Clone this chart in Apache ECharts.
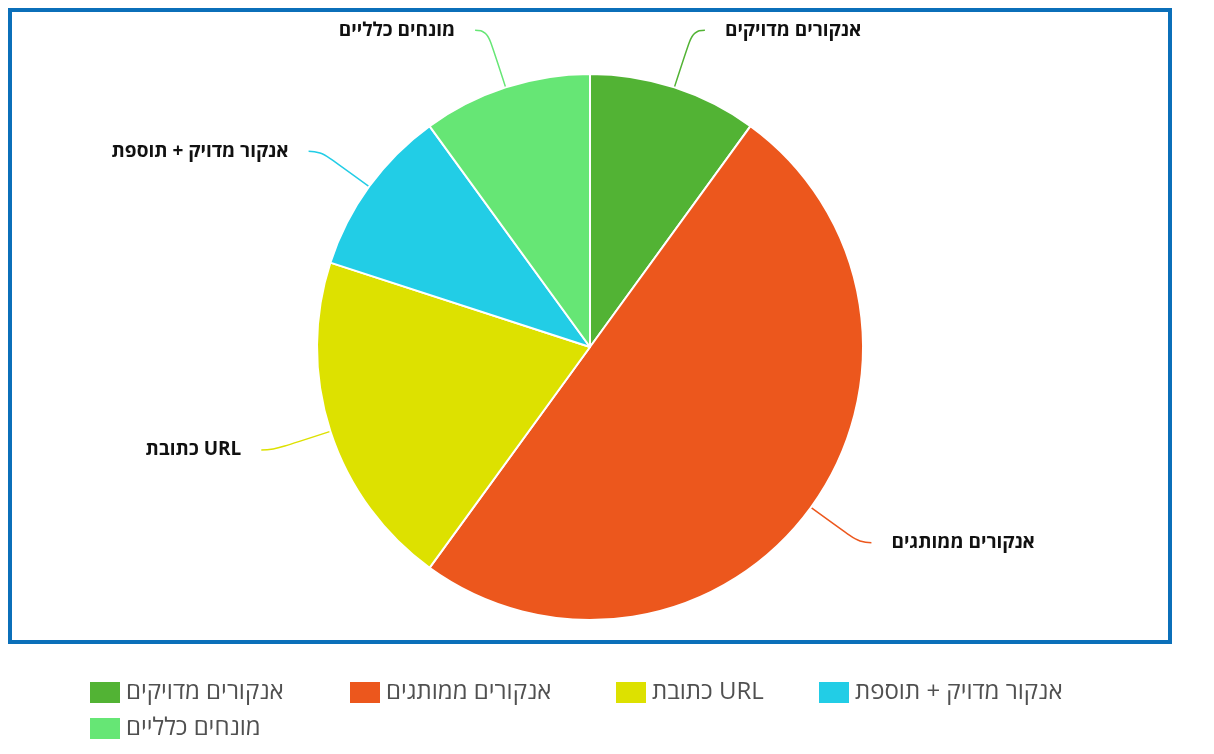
<!DOCTYPE html>
<html>
<head>
<meta charset="utf-8">
<style>
  html, body { margin: 0; padding: 0; background: #fff; }
  .chart { width: 1214px; height: 754px; }
</style>
<script src="https://cdn.jsdelivr.net/npm/echarts@6/dist/echarts.min.js"></script>
</head>
<body>
<div class="chart"></div>
<script>
// 数据
var categories = ['אנקורים מדויקים', 'אנקורים ממותגים', 'כתובת URL', 'אנקור מדויק + תוספת', 'מונחים כלליים'];
var values = [10, 50, 20, 10, 10];
var colors = ['#52b334', '#ec571d', '#dde100', '#22cde6', '#66e675'];

(function () {
  var myChart = echarts.init(document.querySelector('.chart'));

  var pieData = categories.map(function (name, i) {
    return { name: name, value: values[i] };
  });

  // 图例位置（每项一个 legend，对齐原图）
  var legendPos = [[83, 675], [343, 675], [609, 675], [812, 675], [83, 711]];
  var legends = categories.map(function (name, i) {
    return {
      data: [name],
      left: legendPos[i][0],
      top: legendPos[i][1],
      itemWidth: 32,
      itemHeight: 23,
      icon: 'rect',
      textStyle: {
        color: '#505050',
        fontSize: 24,
        fontFamily: 'Open Sans'
      }
    };
  });

  var option = {
    color: colors,
    // 蓝色边框
    graphic: [{
      type: 'rect',
      shape: { x: 10, y: 10, width: 1160, height: 632 },
      style: { fill: 'none', stroke: '#0b6fb9', lineWidth: 4 },
      z: 10
    }],
    legend: legends,
    series: [
      {
        type: 'pie',
        center: [590, 347],
        radius: 273,
        startAngle: 90,
        clockwise: true,
        data: pieData,
        itemStyle: {
          borderColor: '#fff',
          borderWidth: 2
        },
        label: {
          color: '#111',
          fontSize: 19,
          fontWeight: 'bold',
          fontFamily: 'Open Sans',
          padding: [8, 0, 0, 0],
          distanceToLabelLine: 20
        },
        labelLine: {
          length: 60,
          length2: 12,
          smooth: 0.5,
          lineStyle: { width: 1.5 }
        },
        emphasis: { scale: false }
      }
    ]
  };

  myChart.setOption(option);
  window.addEventListener('resize', () => myChart.resize());
})();
</script>
</body>
</html>
